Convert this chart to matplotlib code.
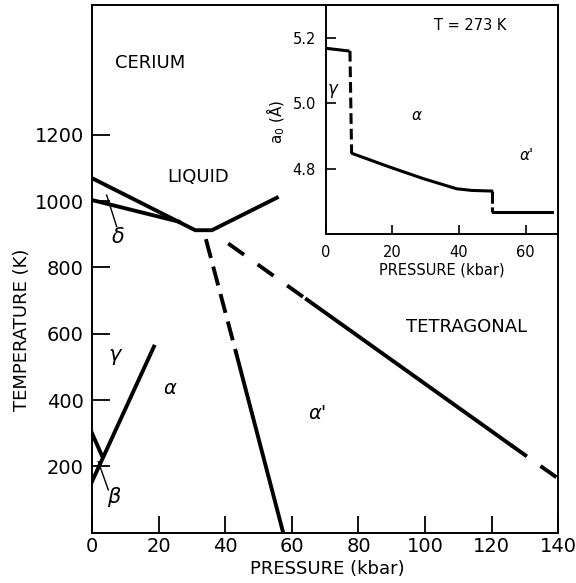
import matplotlib
matplotlib.use("Agg")
import matplotlib.pyplot as plt

# ─── Data ──────────────────────────────────────────────────────────

# main phase diagram, pressure (kbar) vs temperature (K)
melt_p = [0, 31, 36, 55.5]
melt_t = [1069, 912, 912, 1010]
gamma_delta_p = [0, 26]
gamma_delta_t = [1003, 938]
gamma_alpha_p = [0, 18.6]
gamma_alpha_t = [154, 561]
beta_p = [0, 2.9]
beta_t = [300, 234]

# alpha / alpha' boundary : dashed upper part, solid lower part
aa_dash_p = [34.2, 43.3]
aa_dash_t = [885, 541]
aa_solid_p = [43.3, 57.4]
aa_solid_t = [541, 0]

# alpha' / tetragonal boundary
tet_dash1_p = [40.9, 64.5]
tet_dash1_t = [872, 703]
tet_solid_p = [64.5, 125.8]
tet_solid_t = [703, 264]
tet_dash2_p = [125.8, 140]
tet_dash2_t = [264, 163]

# leader lines for delta / beta labels
delta_ptr_p = [4.4, 7.4]
delta_ptr_t = [1018, 923]
beta_ptr_p = [1.9, 4.9]
beta_ptr_t = [214, 129]

x_ticks = [0, 20, 40, 60, 80, 100, 120, 140]
y_ticks = [200, 400, 600, 800, 1000, 1200]

# inset : lattice parameter a0 (Å) at T = 273 K
in_gamma_p = [0, 6.7]
in_gamma_a = [5.168, 5.160]
in_jump_p = [7.3, 7.8]
in_jump_a = [5.160, 4.846]
in_alpha_p = [8.2, 19.3, 29.3, 39.3, 43.8, 49.8]
in_alpha_a = [4.846, 4.805, 4.770, 4.739, 4.734, 4.732]
in_step_p = [49.9, 49.9]
in_step_a = [4.732, 4.668]
in_alpha2_p = [50.1, 67.8]
in_alpha2_a = [4.668, 4.668]

in_x_ticks = [0, 20, 40, 60]
in_y_ticks = [4.8, 5.0, 5.2]

# ─── Figure ───────────────────────────────────────────────────────

plt.rcParams.update({
    "font.family": "DejaVu Sans",
    "axes.linewidth": 1.4,
})

fig = plt.figure(figsize=(5.76, 5.83), dpi=100)
ax = fig.add_axes([0.1597, 0.0863, 0.8096, 0.9051])

K = "black"
LW = 2.8

ax.plot(melt_p, melt_t, color=K, lw=LW, solid_joinstyle="miter")
ax.plot(gamma_delta_p, gamma_delta_t, color=K, lw=LW)
ax.plot(gamma_alpha_p, gamma_alpha_t, color=K, lw=LW)
ax.plot(beta_p, beta_t, color=K, lw=LW)
ax.plot(aa_dash_p, aa_dash_t, color=K, lw=LW, dashes=(5, 2.3))
ax.plot(aa_solid_p, aa_solid_t, color=K, lw=LW)
ax.plot(tet_dash1_p, tet_dash1_t, color=K, lw=LW, dashes=(5, 4.3))
ax.plot(tet_solid_p, tet_solid_t, color=K, lw=LW)
ax.plot(tet_dash2_p, tet_dash2_t, color=K, lw=LW, dashes=(5, 4.3))
ax.plot(delta_ptr_p, delta_ptr_t, color=K, lw=1.0)
ax.plot(beta_ptr_p, beta_ptr_t, color=K, lw=1.0)

ax.set_xlim(0, 140)
ax.set_ylim(0, 1591)
ax.set_xticks(x_ticks)
ax.set_yticks(y_ticks)
ax.tick_params(axis="x", direction="in", length=12, width=1.3, pad=3, labelsize=14)
ax.tick_params(axis="y", direction="in", length=13, width=1.3, pad=6, labelsize=14)

ax.set_xlabel("PRESSURE (kbar)", fontsize=13)
ax.xaxis.set_label_coords(0.504, -0.052)
ax.set_ylabel("TEMPERATURE (K)", fontsize=13)
ax.yaxis.set_label_coords(-0.131, 0.384)

# region labels
ax.text(17.4, 1416, "CERIUM", fontsize=13, ha="center", va="center")
ax.text(31.9, 1073, "LIQUID", fontsize=13, ha="center", va="center")
ax.text(112.6, 620, "TETRAGONAL", fontsize=13, ha="center", va="center")
ax.text(7.8, 892, "δ", fontsize=15, ha="center", va="center", style="italic")
ax.text(6.9, 536, "γ", fontsize=15, ha="center", va="center", style="italic")
ax.text(23.4, 435, "α", fontsize=14, ha="center", va="center", style="italic")
ax.text(6.4, 108, "β", fontsize=15, ha="center", va="center", style="italic")
ax.text(67.6, 360, "α'", fontsize=14, ha="center", va="center", style="italic")

# ─── Inset ─────────────────────────────────────────────────────────

ins = fig.add_axes([0.5653, 0.5981, 0.4040, 0.3933])
ins.set_facecolor("white")
ILW = 2.2
ins.plot(in_gamma_p, in_gamma_a, color=K, lw=ILW)
ins.plot(in_jump_p, in_jump_a, color=K, lw=ILW, dashes=(3.5, 1.6))
ins.plot(in_alpha_p, in_alpha_a, color=K, lw=ILW)
ins.plot(in_step_p, in_step_a, color=K, lw=ILW, dashes=(4, 1.2))
ins.plot(in_alpha2_p, in_alpha2_a, color=K, lw=ILW)

ins.set_xlim(0, 69.8)
ins.set_ylim(4.6, 5.3)
ins.set_xticks(in_x_ticks)
ins.set_yticks(in_y_ticks)
ins.set_yticklabels(["4.8", "5.0", "5.2"])
ins.tick_params(axis="x", direction="in", length=6.5, width=1.2, pad=8, labelsize=10.5)
ins.tick_params(axis="y", direction="in", length=7, width=1.2, pad=7, labelsize=10.5)

ins.set_xlabel("PRESSURE (kbar)", fontsize=10.5)
ins.xaxis.set_label_coords(0.5, -0.125)
ins.set_ylabel("a$_0$ (Å)", fontsize=11)
ins.yaxis.set_label_coords(-0.165, 0.49)

ins.text(43.3, 5.236, "T = 273 K", fontsize=10.5, ha="center", va="center")
ins.text(2.2, 5.044, "γ", fontsize=12, ha="center", va="center", style="italic")
ins.text(27.4, 4.962, "α", fontsize=11, ha="center", va="center", style="italic")
ins.text(60.4, 4.840, "α'", fontsize=11, ha="center", va="center", style="italic")

fig.savefig("out.png", dpi=100)
plt.close(fig)
